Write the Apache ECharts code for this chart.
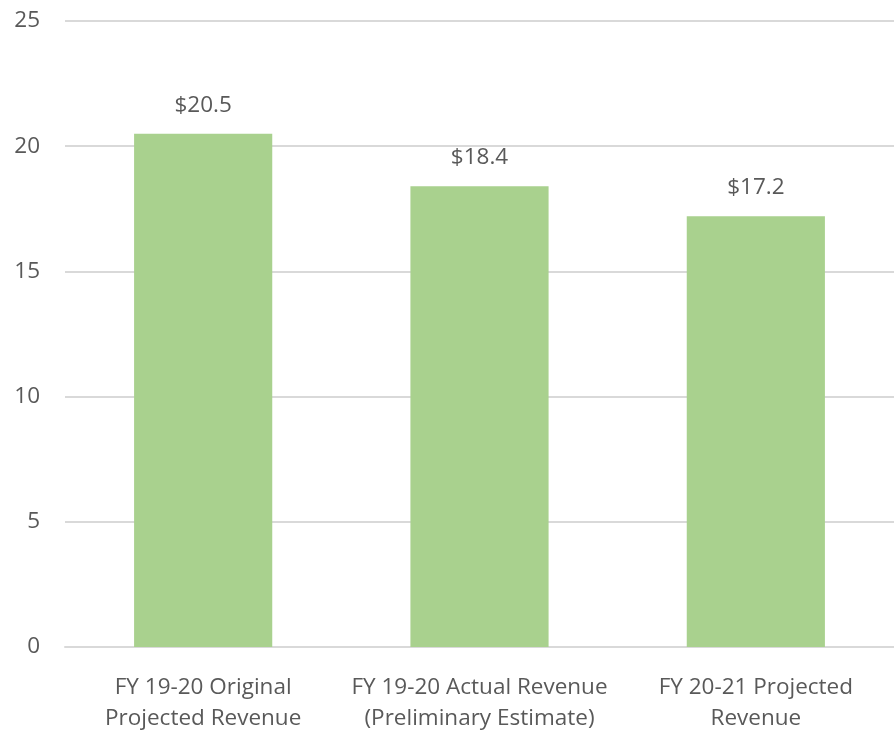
<!DOCTYPE html>
<html>
<head>
<meta charset="utf-8">
<style>
  html, body { margin: 0; padding: 0; background: #fff; }
  #chart { width: 894px; height: 739px; }
</style>
<script src="https://cdn.jsdelivr.net/npm/echarts@6/dist/echarts.min.js"></script>
</head>
<body>
<div id="chart"></div>
<script>
// 数据
const categories = [
  'FY 19-20 Original\nProjected Revenue',
  'FY 19-20 Actual Revenue\n(Preliminary Estimate)',
  'FY 20-21 Projected\nRevenue'
];
const revenue = [20.5, 18.4, 17.2];

const textColor = '#595959';
const fontFamily = '"Open Sans", "Noto Sans", sans-serif';

const chart = echarts.init(document.getElementById('chart'), null, { renderer: 'canvas' });

chart.setOption({
  backgroundColor: '#fff',
  animation: false,
  grid: { left: 65, top: 21, width: 832, height: 626, containLabel: false },
  xAxis: {
    type: 'category',
    data: categories,
    axisLine: { lineStyle: { color: '#D9D9D9', width: 2 } },
    axisTick: { show: false },
    axisLabel: {
      color: textColor,
      fontFamily,
      fontSize: 22.5,
      lineHeight: 31,
      margin: 25,
      interval: 0
    }
  },
  yAxis: {
    type: 'value',
    min: 0,
    max: 25,
    interval: 5,
    axisLine: { show: false },
    axisTick: { show: false },
    splitLine: { lineStyle: { color: '#D9D9D9', width: 2 } },
    axisLabel: { color: textColor, fontFamily, fontSize: 22.5, margin: 25 }
  },
  series: [{
    type: 'bar',
    data: revenue,
    barWidth: '50%',
    itemStyle: { color: '#A9D18E' },
    label: {
      show: true,
      position: 'top',
      distance: 17,
      color: textColor,
      fontFamily,
      fontSize: 22.5,
      formatter: p => '$' + p.value.toFixed(1)
    }
  }]
});
</script>
</body>
</html>
